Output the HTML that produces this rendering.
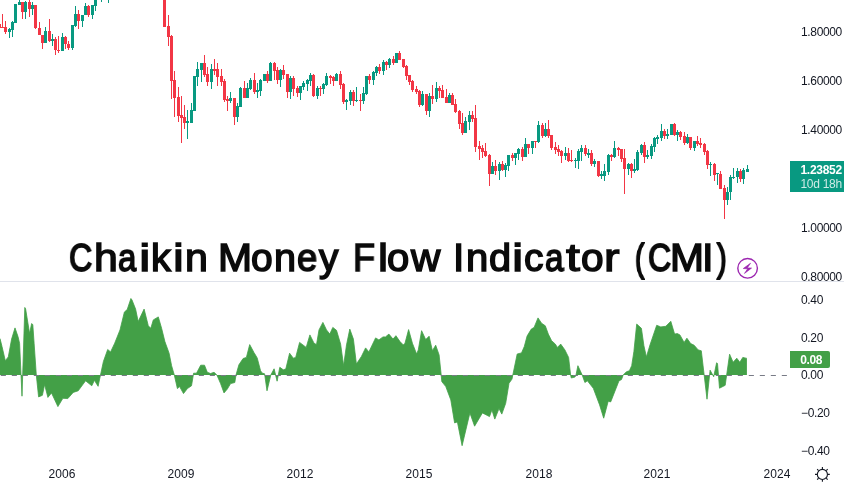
<!DOCTYPE html>
<html lang="en"><head><meta charset="utf-8"><title>Chaikin Money Flow Indicator (CMI)</title>
<style>
html,body{margin:0;padding:0;background:#fff;}
body{width:844px;height:487px;position:relative;overflow:hidden;font-family:"Liberation Sans",sans-serif;color:#131722;}
#chart{position:absolute;left:0;top:0;width:844px;height:487px;}
.ax,.tag,.cm{will-change:transform;}
.ax{position:absolute;font-size:12px;line-height:14px;height:14px;white-space:nowrap;color:#131722;letter-spacing:-0.35px;}
.pl{left:800.5px;}
.tl{top:467px;width:40px;text-align:center;letter-spacing:0.05px;}
.sep{position:absolute;left:0;top:281px;width:844px;height:1px;background:#E0E3EB;}
.title span{display:inline-block;vertical-align:baseline;will-change:transform;font-weight:normal;font-size:38.9px;-webkit-text-stroke:1.55px #0b0b0b;line-height:46px;height:46px;white-space:pre;color:#0b0b0b;transform-origin:0 0;}
.title b{font-weight:normal;}
.title{position:absolute;left:69.36px;top:234.7px;height:46px;width:700px;white-space:pre;font-size:38.9px;line-height:46px;}
.tag{position:absolute;left:790px;top:161px;width:54px;height:31px;background:#089981;color:#fff;font-size:12px;letter-spacing:-0.3px;}
.tag b{position:absolute;left:10.5px;top:1.5px;line-height:14px;font-weight:bold;white-space:nowrap;}
.tag i{position:absolute;left:10.5px;top:15.5px;line-height:14px;font-style:normal;opacity:.8;white-space:nowrap;}
.cm{position:absolute;left:790px;top:351px;width:40px;height:17px;background:#43A047;color:#fff;font-size:12px;border-radius:0 2px 2px 0;line-height:17px;letter-spacing:-0.35px;font-weight:bold;}
.cm span{position:absolute;left:10.2px;top:0.6px;}
</style></head><body>
<svg id="chart" width="844" height="487" viewBox="0 0 844 487">
<g shape-rendering="crispEdges"><path fill="#089981" d="M9 28h1V38h-1zM8 29h3V32h-3zM12 21h1V37h-1zM11 22h3V30h-3zM15 4h1V23h-1zM14 4h3V23h-3zM19 -6h1V5h-1zM18 2h3V5h-3zM25 1h1V19h-1zM24 2h3V12h-3zM32 2h1V15h-1zM31 5h3V9h-3zM45 27h1V43h-1zM44 31h3V43h-3zM52 34h1V46h-1zM51 39h3V41h-3zM62 33h1V51h-1zM61 37h3V51h-3zM72 25h1V50h-1zM71 25h3V48h-3zM75 6h1V27h-1zM74 14h3V26h-3zM82 15h1V27h-1zM81 15h3V21h-3zM85 3h1V15h-1zM84 6h3V15h-3zM92 5h1V19h-1zM91 5h3V15h-3zM95 -13h1V11h-1zM94 -9h3V6h-3zM101 -15h1V2h-1zM100 -9h3V-6h-3zM108 -11h1V3h-1zM107 -10h3V-8h-3zM187 110h1V139h-1zM186 121h3V123h-3zM191 103h1V123h-1zM190 110h3V123h-3zM194 76h1V111h-1zM193 76h3V111h-3zM197 62h1V86h-1zM196 69h3V77h-3zM201 63h1V82h-1zM200 63h3V70h-3zM211 64h1V89h-1zM210 69h3V82h-3zM230 92h1V103h-1zM229 98h3V101h-3zM237 103h1V122h-1zM236 106h3V117h-3zM240 87h1V107h-1zM239 88h3V107h-3zM247 83h1V98h-1zM246 88h3V98h-3zM250 78h1V90h-1zM249 80h3V89h-3zM257 83h1V98h-1zM256 90h3V92h-3zM260 79h1V96h-1zM259 80h3V91h-3zM264 74h1V81h-1zM263 74h3V81h-3zM270 62h1V81h-1zM269 63h3V81h-3zM280 69h1V87h-1zM279 70h3V80h-3zM290 76h1V99h-1zM289 78h3V92h-3zM300 86h1V100h-1zM299 86h3V93h-3zM303 81h1V90h-1zM302 83h3V87h-3zM307 79h1V91h-1zM306 80h3V84h-3zM310 73h1V86h-1zM309 75h3V81h-3zM317 86h1V99h-1zM316 88h3V96h-3zM323 83h1V94h-1zM322 84h3V89h-3zM326 73h1V86h-1zM325 76h3V85h-3zM336 73h1V81h-1zM335 74h3V81h-3zM346 99h1V110h-1zM345 100h3V102h-3zM350 90h1V105h-1zM349 92h3V101h-3zM356 87h1V102h-1zM355 100h3V101h-3zM363 87h1V104h-1zM362 93h3V101h-3zM366 76h1V95h-1zM365 76h3V94h-3zM373 71h1V85h-1zM372 72h3V80h-3zM376 66h1V76h-1zM375 67h3V73h-3zM383 60h1V75h-1zM382 62h3V71h-3zM389 58h1V68h-1zM388 59h3V65h-3zM396 53h1V63h-1zM395 53h3V63h-3zM422 91h1V106h-1zM421 94h3V105h-3zM429 93h1V117h-1zM428 96h3V111h-3zM436 82h1V102h-1zM435 88h3V99h-3zM449 93h1V103h-1zM448 95h3V103h-3zM465 117h1V133h-1zM464 121h3V133h-3zM469 111h1V130h-1zM468 115h3V122h-3zM492 162h1V174h-1zM491 166h3V174h-3zM499 162h1V180h-1zM498 164h3V171h-3zM505 163h1V177h-1zM504 165h3V170h-3zM508 155h1V171h-1zM507 155h3V166h-3zM515 153h1V165h-1zM514 153h3V158h-3zM518 148h1V160h-1zM517 149h3V154h-3zM525 138h1V157h-1zM524 144h3V157h-3zM532 141h1V154h-1zM531 141h3V148h-3zM538 121h1V143h-1zM537 125h3V142h-3zM545 123h1V137h-1zM544 129h3V136h-3zM565 147h1V160h-1zM564 153h3V156h-3zM575 158h1V168h-1zM574 160h3V161h-3zM578 149h1V169h-1zM577 151h3V161h-3zM581 145h1V161h-1zM580 148h3V152h-3zM588 149h1V158h-1zM587 153h3V155h-3zM594 159h1V167h-1zM593 161h3V164h-3zM601 171h1V179h-1zM600 174h3V176h-3zM604 164h1V181h-1zM603 171h3V176h-3zM608 154h1V175h-1zM607 155h3V172h-3zM614 141h1V158h-1zM613 148h3V157h-3zM628 163h1V175h-1zM627 164h3V169h-3zM634 159h1V173h-1zM633 169h3V171h-3zM637 150h1V171h-1zM636 152h3V170h-3zM641 144h1V155h-1zM640 145h3V153h-3zM647 150h1V159h-1zM646 155h3V157h-3zM651 144h1V159h-1zM650 146h3V156h-3zM654 137h1V152h-1zM653 138h3V147h-3zM657 135h1V144h-1zM656 137h3V139h-3zM661 124h1V141h-1zM660 131h3V138h-3zM667 129h1V139h-1zM666 134h3V136h-3zM671 124h1V135h-1zM670 124h3V135h-3zM677 130h1V141h-1zM676 132h3V135h-3zM687 134h1V144h-1zM686 137h3V143h-3zM694 141h1V151h-1zM693 141h3V148h-3zM710 162h1V176h-1zM709 164h3V165h-3zM717 173h1V185h-1zM716 173h3V174h-3zM727 187h1V205h-1zM726 192h3V200h-3zM730 175h1V200h-1zM729 177h3V192h-3zM733 168h1V179h-1zM732 177h3V178h-3zM737 168h1V183h-1zM736 171h3V177h-3zM743 168h1V184h-1zM742 170h3V179h-3zM747 165h1V172h-1zM746 169h3V172h-3z"/><path fill="#F23645" d="M-1 24h1V28h-1zM-2 24h3V28h-3zM2 14h1V28h-1zM1 27h3V28h-3zM5 21h1V34h-1zM4 27h3V32h-3zM22 2h1V19h-1zM21 2h3V12h-3zM29 -2h1V17h-1zM28 2h3V9h-3zM35 5h1V29h-1zM34 5h3V28h-3zM39 22h1V35h-1zM38 28h3V35h-3zM42 35h1V49h-1zM41 35h3V43h-3zM49 19h1V42h-1zM48 31h3V41h-3zM55 37h1V55h-1zM54 39h3V50h-3zM58 36h1V53h-1zM57 50h3V51h-3zM65 36h1V49h-1zM64 37h3V44h-3zM68 41h1V50h-1zM67 44h3V48h-3zM78 10h1V29h-1zM77 14h3V21h-3zM88 5h1V17h-1zM87 6h3V15h-3zM164 -14h1V27h-1zM163 -13h3V27h-3zM168 15h1V46h-1zM167 26h3V37h-3zM171 35h1V99h-1zM170 36h3V81h-3zM174 71h1V117h-1zM173 80h3V98h-3zM178 87h1V122h-1zM177 97h3V116h-3zM181 96h1V143h-1zM180 115h3V118h-3zM184 105h1V129h-1zM183 117h3V123h-3zM204 55h1V77h-1zM203 63h3V75h-3zM207 67h1V86h-1zM206 74h3V82h-3zM214 59h1V75h-1zM213 69h3V71h-3zM217 63h1V86h-1zM216 69h3V77h-3zM221 69h1V86h-1zM220 76h3V82h-3zM224 79h1V102h-1zM223 81h3V100h-3zM227 96h1V111h-1zM226 99h3V101h-3zM234 98h1V125h-1zM233 98h3V117h-3zM244 81h1V98h-1zM243 88h3V98h-3zM254 73h1V94h-1zM253 80h3V92h-3zM267 71h1V83h-1zM266 74h3V81h-3zM274 62h1V80h-1zM273 63h3V71h-3zM277 67h1V84h-1zM276 70h3V80h-3zM283 65h1V79h-1zM282 70h3V75h-3zM287 74h1V98h-1zM286 74h3V92h-3zM293 76h1V96h-1zM292 78h3V89h-3zM297 86h1V97h-1zM296 88h3V93h-3zM313 74h1V97h-1zM312 75h3V96h-3zM320 86h1V96h-1zM319 88h3V89h-3zM330 75h1V84h-1zM329 76h3V78h-3zM333 76h1V86h-1zM332 77h3V81h-3zM340 71h1V89h-1zM339 74h3V85h-3zM343 83h1V104h-1zM342 84h3V102h-3zM353 90h1V106h-1zM352 92h3V101h-3zM360 94h1V111h-1zM359 100h3V101h-3zM369 74h1V84h-1zM368 76h3V80h-3zM379 64h1V74h-1zM378 67h3V71h-3zM386 61h1V70h-1zM385 62h3V65h-3zM393 56h1V65h-1zM392 59h3V63h-3zM399 51h1V60h-1zM398 53h3V60h-3zM403 59h1V68h-1zM402 59h3V67h-3zM406 65h1V80h-1zM405 66h3V76h-3zM409 75h1V85h-1zM408 75h3V82h-3zM412 80h1V92h-1zM411 81h3V90h-3zM416 86h1V94h-1zM415 89h3V92h-3zM419 90h1V107h-1zM418 91h3V105h-3zM426 94h1V115h-1zM425 94h3V111h-3zM432 85h1V104h-1zM431 96h3V99h-3zM439 86h1V98h-1zM438 88h3V91h-3zM442 85h1V98h-1zM441 90h3V98h-3zM446 89h1V103h-1zM445 97h3V103h-3zM452 93h1V105h-1zM451 95h3V105h-3zM455 99h1V113h-1zM454 104h3V112h-3zM459 110h1V129h-1zM458 111h3V124h-3zM462 113h1V135h-1zM461 123h3V133h-3zM472 111h1V122h-1zM471 115h3V119h-3zM475 105h1V152h-1zM474 118h3V147h-3zM479 141h1V160h-1zM478 146h3V149h-3zM482 145h1V158h-1zM481 148h3V152h-3zM485 143h1V157h-1zM484 151h3V156h-3zM489 154h1V186h-1zM488 155h3V174h-3zM495 160h1V175h-1zM494 166h3V171h-3zM502 161h1V171h-1zM501 164h3V170h-3zM512 153h1V161h-1zM511 155h3V158h-3zM522 147h1V161h-1zM521 149h3V157h-3zM528 144h1V154h-1zM527 144h3V148h-3zM535 141h1V148h-1zM534 141h3V142h-3zM542 123h1V138h-1zM541 125h3V136h-3zM548 120h1V138h-1zM547 129h3V136h-3zM551 135h1V150h-1zM550 135h3V148h-3zM555 142h1V154h-1zM554 147h3V150h-3zM558 145h1V156h-1zM557 149h3V152h-3zM561 150h1V163h-1zM560 151h3V156h-3zM568 148h1V162h-1zM567 153h3V161h-3zM571 150h1V162h-1zM570 160h3V161h-3zM585 145h1V156h-1zM584 148h3V154h-3zM591 150h1V166h-1zM590 153h3V164h-3zM598 161h1V177h-1zM597 161h3V176h-3zM611 154h1V161h-1zM610 155h3V157h-3zM618 147h1V156h-1zM617 148h3V150h-3zM621 149h1V162h-1zM620 149h3V159h-3zM624 149h1V194h-1zM623 158h3V169h-3zM631 163h1V178h-1zM630 164h3V171h-3zM644 142h1V163h-1zM643 145h3V157h-3zM664 129h1V139h-1zM663 131h3V136h-3zM674 123h1V136h-1zM673 124h3V135h-3zM680 131h1V140h-1zM679 132h3V137h-3zM684 132h1V145h-1zM683 136h3V143h-3zM690 137h1V150h-1zM689 137h3V148h-3zM697 136h1V146h-1zM696 141h3V144h-3zM700 138h1V148h-1zM699 143h3V145h-3zM704 143h1V155h-1zM703 144h3V152h-3zM707 150h1V169h-1zM706 151h3V165h-3zM714 163h1V181h-1zM713 164h3V175h-3zM720 171h1V189h-1zM719 174h3V189h-3zM724 185h1V219h-1zM723 188h3V200h-3zM740 169h1V182h-1zM739 171h3V179h-3z"/></g>
<path fill="#43A047" d="M0 375L0 338.6 2 346.5 5.3 360.7 8.3 356.9 11.6 339.1 15 327.9 18 336.6 19.6 343.4 22 396.2 24.8 307.5 25.6 308.8 29.6 333.6 31.6 323.6 32.8 324.6 34.1 343.2 36.3 375 38.6 396.9 42.4 395.3 44.6 384.6 47.9 397.4 51.5 392.9 57.9 406.6 62.9 398.3 67.8 398.6 73.2 392.4 78.2 390.8 85.6 380.8 91.8 385.8 94.4 380.3 98.1 386.3 100.5 375 103.4 361.5 107.7 349.5 110.6 351.9 114.7 343.2 120 329.9 124.4 312 127.2 309.6 130.9 298.5 132 300 135.6 309.1 138.2 321.6 144.1 309.1 148.3 325.8 150.8 328.3 153.3 319.9 158.3 316.9 161.6 328.3 164.9 341.6 169.1 353.2 171.6 365.7 174.3 375 177.4 388.6 179.6 386.6 183.5 393.6 187.4 388.6 191.5 385.8 193.3 375 193.6 373.2 196.5 373.2 200.7 365.2 204.5 365.2 207.3 372.3 210.6 373.5 214 372.3 216.9 375 220.6 383.6 224 392.9 227.3 389.1 230.6 383.6 234.8 382.5 236 375 238.9 364.8 243.1 358.5 246.4 357.4 249.7 344.6 253.9 352.4 257.2 357.9 260.5 370.5 262 373 264.6 373.8 267 390.8 270.8 375 274.1 368.8 277.1 381.2 279.8 367.3 283.3 369.8 285.8 369 289.6 353.2 293.3 358.2 295.7 357.4 299.6 342.4 306.2 347.4 309.9 334.9 314 343.2 316.5 344.6 319 329.9 322.9 322.4 326.5 329.9 329.8 334.1 332.8 327.4 336.5 330.3 340.6 344.1 343.6 365.7 346.5 344.9 349.8 329.1 353.4 339.1 356.4 364 361.4 356.5 365.6 347.9 368.9 351.9 375.6 337.9 378.9 339.9 383 336.9 385.5 336.9 388.9 334.1 393 339.1 395.9 335.7 400 341.6 403.3 344.9 405 343.2 408.6 329.6 412.4 343.2 416.6 354 418.3 349.9 421.6 330.7 425.7 339.6 429.1 336.2 432.4 350.7 435.7 345.2 439.1 354.9 441.2 375 441.8 381.6 445.8 386.6 450.8 399.9 454.6 422.9 457.4 421.9 462.1 445.7 469.9 412.9 474.6 426.2 482.4 412.9 489.5 416.6 491.9 409.9 494.8 419.1 499 408.6 501.8 414.1 505.7 403.3 509 383.3 512 379.1 512.8 375 517.2 354 521.5 352.9 524.3 346.5 527.1 336 531.3 329.1 534.1 327.4 538 317.9 541.6 323.3 545.3 325.8 548.3 334.1 551.6 340.7 555.3 344.1 557.4 347.4 560.7 344.1 564.9 349.9 568.6 357.4 570.6 375 571.3 378 575 377 576 375 577.9 365.7 582.2 375 584.9 382.5 587.4 380.8 593.3 388.3 599.6 404.9 603.7 418.2 608.2 401.3 610.7 401.9 619 380.8 621.5 379.6 623.2 375 626.4 371.8 629.4 370.7 631.7 365.7 633.9 351.5 636.7 324.1 641.4 328.3 643.9 345.7 646.4 356.9 650 344.9 656.7 325.3 660.8 326.9 665.8 326.3 670.8 321.3 674.6 334.1 677.4 333.6 679.9 334.9 684.1 342.4 686.9 338.2 690.7 343.6 694.1 345.2 698.2 349.9 701.3 350.8 707 399.2 710.1 370.2 713.7 376.7 716.6 362.8 717.5 363.5 719.5 388.2 725.2 385.3 729.6 354.2 733.1 362.3 736.8 358.2 739.8 362.3 742.8 357.4 746.9 358.4 L746.9 375Z"/><path fill="none" stroke="#43A047" stroke-width="0.8" stroke-linejoin="miter" stroke-miterlimit="3" d="M0 338.6 2 346.5 5.3 360.7 8.3 356.9 11.6 339.1 15 327.9 18 336.6 19.6 343.4 22 396.2 24.8 307.5 25.6 308.8 29.6 333.6 31.6 323.6 32.8 324.6 34.1 343.2 36.3 375 38.6 396.9 42.4 395.3 44.6 384.6 47.9 397.4 51.5 392.9 57.9 406.6 62.9 398.3 67.8 398.6 73.2 392.4 78.2 390.8 85.6 380.8 91.8 385.8 94.4 380.3 98.1 386.3 100.5 375 103.4 361.5 107.7 349.5 110.6 351.9 114.7 343.2 120 329.9 124.4 312 127.2 309.6 130.9 298.5 132 300 135.6 309.1 138.2 321.6 144.1 309.1 148.3 325.8 150.8 328.3 153.3 319.9 158.3 316.9 161.6 328.3 164.9 341.6 169.1 353.2 171.6 365.7 174.3 375 177.4 388.6 179.6 386.6 183.5 393.6 187.4 388.6 191.5 385.8 193.3 375 193.6 373.2 196.5 373.2 200.7 365.2 204.5 365.2 207.3 372.3 210.6 373.5 214 372.3 216.9 375 220.6 383.6 224 392.9 227.3 389.1 230.6 383.6 234.8 382.5 236 375 238.9 364.8 243.1 358.5 246.4 357.4 249.7 344.6 253.9 352.4 257.2 357.9 260.5 370.5 262 373 264.6 373.8 267 390.8 270.8 375 274.1 368.8 277.1 381.2 279.8 367.3 283.3 369.8 285.8 369 289.6 353.2 293.3 358.2 295.7 357.4 299.6 342.4 306.2 347.4 309.9 334.9 314 343.2 316.5 344.6 319 329.9 322.9 322.4 326.5 329.9 329.8 334.1 332.8 327.4 336.5 330.3 340.6 344.1 343.6 365.7 346.5 344.9 349.8 329.1 353.4 339.1 356.4 364 361.4 356.5 365.6 347.9 368.9 351.9 375.6 337.9 378.9 339.9 383 336.9 385.5 336.9 388.9 334.1 393 339.1 395.9 335.7 400 341.6 403.3 344.9 405 343.2 408.6 329.6 412.4 343.2 416.6 354 418.3 349.9 421.6 330.7 425.7 339.6 429.1 336.2 432.4 350.7 435.7 345.2 439.1 354.9 441.2 375 441.8 381.6 445.8 386.6 450.8 399.9 454.6 422.9 457.4 421.9 462.1 445.7 469.9 412.9 474.6 426.2 482.4 412.9 489.5 416.6 491.9 409.9 494.8 419.1 499 408.6 501.8 414.1 505.7 403.3 509 383.3 512 379.1 512.8 375 517.2 354 521.5 352.9 524.3 346.5 527.1 336 531.3 329.1 534.1 327.4 538 317.9 541.6 323.3 545.3 325.8 548.3 334.1 551.6 340.7 555.3 344.1 557.4 347.4 560.7 344.1 564.9 349.9 568.6 357.4 570.6 375 571.3 378 575 377 576 375 577.9 365.7 582.2 375 584.9 382.5 587.4 380.8 593.3 388.3 599.6 404.9 603.7 418.2 608.2 401.3 610.7 401.9 619 380.8 621.5 379.6 623.2 375 626.4 371.8 629.4 370.7 631.7 365.7 633.9 351.5 636.7 324.1 641.4 328.3 643.9 345.7 646.4 356.9 650 344.9 656.7 325.3 660.8 326.9 665.8 326.3 670.8 321.3 674.6 334.1 677.4 333.6 679.9 334.9 684.1 342.4 686.9 338.2 690.7 343.6 694.1 345.2 698.2 349.9 701.3 350.8 707 399.2 710.1 370.2 713.7 376.7 716.6 362.8 717.5 363.5 719.5 388.2 725.2 385.3 729.6 354.2 733.1 362.3 736.8 358.2 739.8 362.3 742.8 357.4 746.9 358.4"/>
<line x1="0.8" y1="375.5" x2="787" y2="375.5" stroke="#787B86" stroke-width="1" stroke-dasharray="5.1 5.9"/>
<g fill="none" stroke="#9C27B0"><circle cx="747.6" cy="268.3" r="9.8" stroke-width="1.4"/></g>
<path fill="#9C27B0" stroke="#9C27B0" stroke-width="0.7" stroke-linejoin="round" d="M750.5 263.3L743.3 268.5L747.7 268.8L744.5 273.4L751.5 268.1L747.2 267.9Z"/>
<g fill="none" stroke="#131722" stroke-width="1.1"><circle cx="822.4" cy="474.4" r="5.05"/>
<path d="M822.4 467v2M822.4 479.8v2M815 474.4h2M827.8 474.4h2M817.15 469.15l1.4 1.4M826.25 478.25l1.4 1.4M827.65 469.15l-1.4 1.4M818.55 478.25l-1.4 1.4"/></g>
</svg>
<div class="sep"></div>
<div class="title"><span style="width:24.52px;transform:scaleX(0.8267);-webkit-text-stroke-width:1.79px">C</span><span style="width:24.36px;transform:scaleX(1.1010);-webkit-text-stroke-width:1.44px">h</span><span style="width:20.96px;transform:scaleX(0.8478);-webkit-text-stroke-width:1.75px">a</span><span style="width:11.67px;transform:scaleX(1.3336);-webkit-text-stroke-width:1.25px">i</span><span style="width:22.53px;transform:scaleX(1.0209);-webkit-text-stroke-width:1.53px">k</span><span style="width:11.32px;transform:scaleX(1.2513);-webkit-text-stroke-width:1.31px">i</span><span style="width:33.15px;transform:scaleX(1.0575);-webkit-text-stroke-width:1.49px">n </span><span style="width:32.95px;transform:scaleX(1.0520);-webkit-text-stroke-width:1.49px">M</span><span style="width:23.09px;transform:scaleX(1.0013);-webkit-text-stroke-width:1.55px">o</span><span style="width:23.11px;transform:scaleX(1.0162);-webkit-text-stroke-width:1.53px">n</span><span style="width:22.38px;transform:scaleX(0.9328);-webkit-text-stroke-width:1.63px">e</span><span style="width:33.64px;transform:scaleX(0.9951);-webkit-text-stroke-width:1.56px">y </span><span style="width:24.90px;transform:scaleX(0.9268);-webkit-text-stroke-width:1.64px">F</span><span style="width:9.34px;transform:scaleX(1.1572);-webkit-text-stroke-width:1.39px">l</span><span style="width:23.54px;transform:scaleX(1.0281);-webkit-text-stroke-width:1.52px">o</span><span style="width:42.65px;transform:scaleX(1.0440);-webkit-text-stroke-width:1.5px">w </span><span style="width:12.21px;transform:scaleX(1.0442);-webkit-text-stroke-width:1.5px">I</span><span style="width:23.11px;transform:scaleX(1.0280);-webkit-text-stroke-width:1.52px">n</span><span style="width:23.48px;transform:scaleX(1.0209);-webkit-text-stroke-width:1.53px">d</span><span style="width:12.05px;transform:scaleX(1.3062);-webkit-text-stroke-width:1.27px">i</span><span style="width:20.52px;transform:scaleX(1.0015);-webkit-text-stroke-width:1.55px">c</span><span style="width:21.15px;transform:scaleX(0.8527);-webkit-text-stroke-width:1.75px">a</span><span style="width:15.47px;transform:scaleX(1.2874);-webkit-text-stroke-width:1.28px">t</span><span style="width:23.02px;transform:scaleX(1.0441);-webkit-text-stroke-width:1.5px">o</span><span style="width:30.72px;transform:scaleX(1.1988);-webkit-text-stroke-width:1.35px">r </span><span style="width:12.87px;transform:scaleX(0.7122);-webkit-text-stroke-width:2.0px">(</span><span style="width:21.81px;transform:scaleX(0.8227);-webkit-text-stroke-width:1.79px">C</span><span style="width:31.90px;transform:scaleX(1.0482);-webkit-text-stroke-width:1.5px">M</span><span style="width:15.38px;transform:scaleX(1.0696);-webkit-text-stroke-width:1.47px">I</span><span style="width:20.00px;transform:scaleX(0.7469);-webkit-text-stroke-width:1.93px">)</span></div>
<div class="ax pl" style="top:24.5px">1.80000</div>
<div class="ax pl" style="top:73.5px">1.60000</div>
<div class="ax pl" style="top:122.5px">1.40000</div>
<div class="ax pl" style="top:220.5px">1.00000</div>
<div class="ax pl" style="top:269.5px">0.80000</div>
<div class="ax pl" style="top:292.5px">0.40</div>
<div class="ax pl" style="top:330.5px">0.20</div>
<div class="ax pl" style="top:367.5px">0.00</div>
<div class="ax pl" style="top:405.5px">−0.20</div>
<div class="ax pl" style="top:443.5px">−0.40</div>
<div class="tag"><b>1.23852</b><i>10d 18h</i></div>
<div class="cm"><span>0.08</span></div>
<div class="ax tl" style="left:42.1px">2006</div>
<div class="ax tl" style="left:161.2px">2009</div>
<div class="ax tl" style="left:280.3px">2012</div>
<div class="ax tl" style="left:399.4px">2015</div>
<div class="ax tl" style="left:518.5px">2018</div>
<div class="ax tl" style="left:637.3px">2021</div>
<div class="ax tl" style="left:756.7px">2024</div>
</body></html>
